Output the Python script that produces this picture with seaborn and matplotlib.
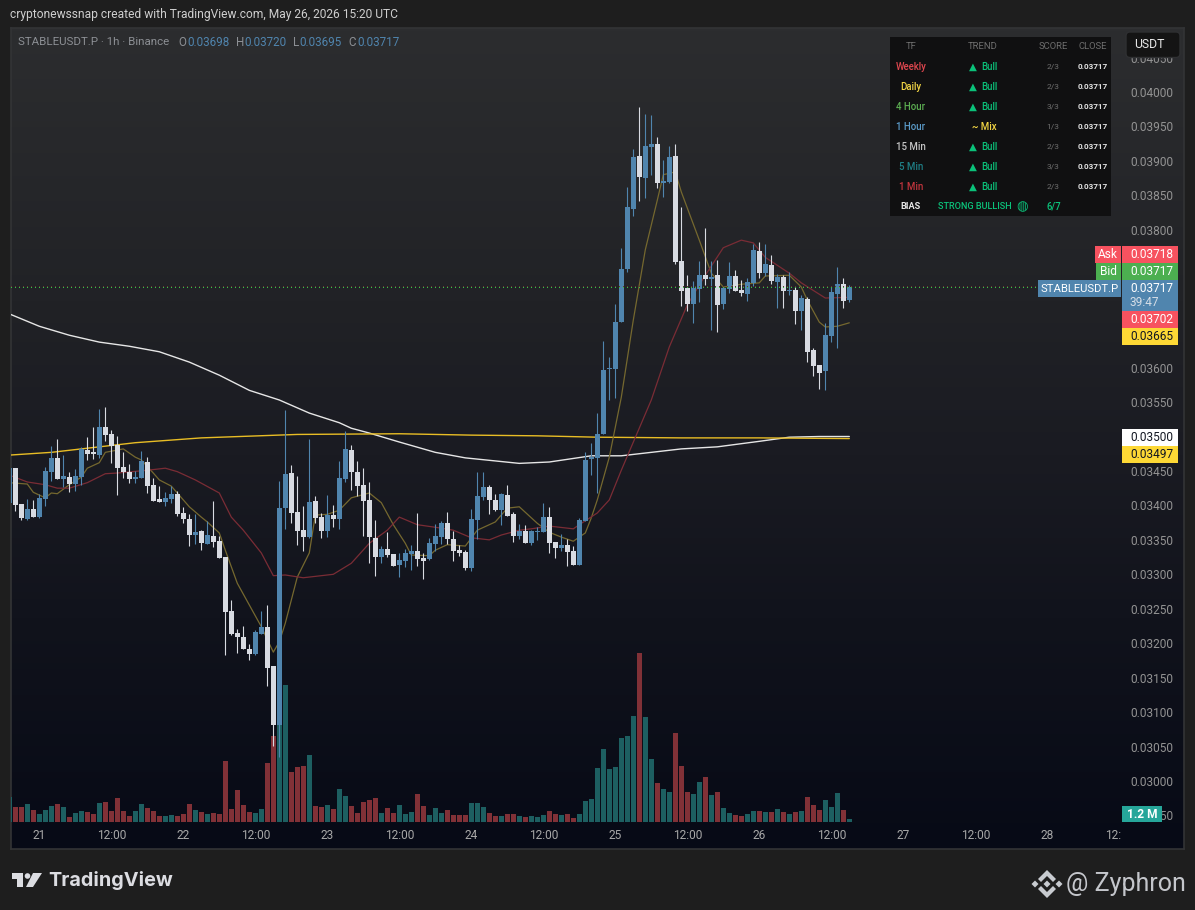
import numpy as np
import pandas as pd
import seaborn as sns
import matplotlib
matplotlib.use("Agg")
import matplotlib.pyplot as plt
import matplotlib.transforms as mtransforms
from matplotlib.colors import LinearSegmentedColormap
from matplotlib.patches import Rectangle, FancyBboxPatch, Polygon, Circle

# hours since May 21 00:00, one candle per hour
hours = list(range(-5, 136))

# prices below are in units of 0.00001
opens = [3403, 3454, 3402, 3380, 3395, 3383, 3409, 3449, 3469, 3438, 3441, 3431, 3441, 3480, 3476, 3473, 3514, 3504, 3488, 3456,
         3449, 3438, 3440, 3463, 3430, 3409, 3405, 3409, 3417, 3389, 3380, 3357, 3363, 3344, 3356, 3348, 3325, 3247, 3215, 3209,
         3192, 3184, 3213, 3224, 3167, 3081, 3396, 3447, 3390, 3364, 3354, 3406, 3383, 3363, 3386, 3380, 3438, 3480, 3449, 3430,
         3408, 3353, 3325, 3337, 3329, 3314, 3319, 3329, 3334, 3324, 3322, 3344, 3354, 3374, 3351, 3335, 3332, 3309, 3379, 3412,
         3427, 3408, 3393, 3415, 3388, 3356, 3363, 3345, 3361, 3361, 3383, 3347, 3338, 3343, 3334, 3314, 3377, 3468, 3469, 3504,
         3598, 3598, 3666, 3743, 3830, 3907, 3875, 3920, 3925, 3868, 3869, 3907, 3755, 3716, 3692, 3714, 3734, 3729, 3734, 3692,
         3714, 3733, 3713, 3707, 3723, 3769, 3737, 3749, 3724, 3731, 3711, 3713, 3682, 3700, 3626, 3604, 3595, 3646, 3707, 3721,
         3698]
highs = [3459, 3454, 3402, 3409, 3408, 3417, 3456, 3486, 3496, 3473, 3448, 3453, 3485, 3499, 3514, 3540, 3543, 3509, 3501, 3478,
         3460, 3450, 3479, 3470, 3440, 3428, 3419, 3428, 3421, 3398, 3388, 3388, 3364, 3377, 3406, 3356, 3325, 3263, 3221, 3225,
         3199, 3219, 3247, 3255, 3167, 3435, 3538, 3459, 3443, 3399, 3496, 3414, 3389, 3415, 3401, 3464, 3508, 3488, 3464, 3454,
         3434, 3379, 3341, 3361, 3329, 3331, 3337, 3343, 3389, 3331, 3353, 3373, 3377, 3390, 3363, 3343, 3335, 3395, 3448, 3448,
         3430, 3417, 3418, 3430, 3390, 3373, 3372, 3364, 3369, 3403, 3398, 3347, 3359, 3351, 3341, 3382, 3477, 3491, 3534, 3639,
         3615, 3692, 3774, 3862, 3917, 3978, 3968, 3967, 3935, 3901, 3922, 3925, 3833, 3734, 3726, 3755, 3803, 3755, 3756, 3718,
         3753, 3742, 3727, 3730, 3779, 3782, 3779, 3763, 3736, 3734, 3739, 3717, 3705, 3702, 3628, 3604, 3665, 3718, 3746, 3730,
         3720]
lows = [3398, 3392, 3379, 3379, 3383, 3382, 3399, 3435, 3438, 3427, 3419, 3421, 3430, 3466, 3467, 3469, 3493, 3462, 3415, 3440,
        3433, 3433, 3440, 3418, 3406, 3405, 3399, 3403, 3385, 3374, 3341, 3344, 3335, 3344, 3340, 3324, 3183, 3212, 3186, 3192,
        3176, 3183, 3213, 3138, 3051, 3035, 3366, 3374, 3343, 3334, 3353, 3374, 3353, 3354, 3369, 3366, 3434, 3422, 3414, 3356,
        3316, 3298, 3316, 3325, 3312, 3296, 3311, 3306, 3312, 3293, 3321, 3334, 3344, 3344, 3319, 3327, 3306, 3305, 3351, 3408,
        3388, 3392, 3372, 3385, 3347, 3351, 3345, 3343, 3350, 3361, 3331, 3324, 3334, 3312, 3314, 3314, 3377, 3444, 3418, 3504,
        3553, 3556, 3666, 3739, 3820, 3842, 3846, 3880, 3861, 3848, 3868, 3750, 3689, 3682, 3665, 3695, 3720, 3655, 3652, 3685,
        3708, 3711, 3704, 3697, 3718, 3730, 3733, 3721, 3686, 3686, 3705, 3663, 3655, 3608, 3588, 3569, 3567, 3637, 3628, 3686,
        3695]
closes = [3454, 3401, 3382, 3395, 3383, 3411, 3450, 3469, 3438, 3443, 3431, 3443, 3482, 3475, 3475, 3514, 3502, 3486, 3454, 3449,
          3438, 3441, 3464, 3428, 3406, 3405, 3411, 3417, 3388, 3380, 3357, 3361, 3345, 3357, 3347, 3324, 3245, 3213, 3209, 3192,
          3184, 3216, 3224, 3164, 3081, 3396, 3446, 3389, 3363, 3354, 3405, 3382, 3363, 3386, 3380, 3440, 3482, 3448, 3428, 3406,
          3354, 3325, 3337, 3328, 3312, 3321, 3331, 3334, 3322, 3319, 3345, 3356, 3374, 3351, 3334, 3331, 3309, 3380, 3414, 3427,
          3408, 3393, 3417, 3385, 3356, 3363, 3345, 3363, 3363, 3383, 3345, 3338, 3343, 3332, 3314, 3379, 3466, 3470, 3504, 3596,
          3600, 3666, 3743, 3833, 3906, 3877, 3922, 3925, 3868, 3871, 3906, 3753, 3711, 3692, 3716, 3734, 3729, 3732, 3691, 3716,
          3733, 3711, 3708, 3724, 3771, 3737, 3750, 3726, 3731, 3711, 3713, 3682, 3701, 3623, 3602, 3592, 3647, 3710, 3721, 3697,
          3717]

# volume in millions
volumes = [10.0, 6.0, 6.0, 7.2, 4.8, 3.2, 4.8, 6.4, 7.2, 6.0, 2.0, 3.6, 4.4, 4.0, 3.2, 7.6, 8.0, 4.4, 9.6, 4.4,
           2.4, 4.4, 7.2, 5.6, 4.4, 2.4, 2.4, 2.8, 2.4, 3.2, 7.2, 4.8, 4.0, 3.2, 3.6, 3.2, 24.4, 5.2, 12.8, 6.8,
           4.0, 3.6, 5.2, 23.6, 34.4, 60.0, 54.8, 20.0, 22.0, 22.4, 26.8, 6.4, 6.0, 6.8, 5.2, 13.2, 10.4, 6.4, 3.6, 8.0,
           8.8, 9.6, 3.6, 5.6, 3.6, 6.8, 3.2, 4.0, 11.2, 6.4, 2.8, 5.6, 3.6, 4.8, 2.8, 2.8, 2.8, 7.6, 7.6, 6.0,
           3.6, 2.4, 2.4, 3.2, 3.2, 2.4, 2.0, 2.4, 2.0, 2.8, 4.4, 3.2, 2.8, 3.2, 1.6, 3.2, 8.4, 9.2, 21.6, 29.2,
           21.2, 22.0, 33.6, 34.4, 42.4, 67.6, 42.0, 25.2, 15.6, 13.2, 12.0, 35.6, 22.4, 12.0, 11.2, 16.0, 18.0, 10.8, 12.0, 5.6,
           3.6, 2.8, 2.4, 3.2, 4.4, 4.4, 4.0, 4.0, 5.2, 4.0, 3.2, 4.0, 4.4, 10.0, 6.8, 4.8, 8.8, 6.0, 11.6, 4.8,
           1.2]

# moving averages, read at a handful of hours
ma_white_h = [-5, 0, 5, 10, 15, 20, 25, 30, 35, 40, 45, 50, 52, 55, 60, 66, 71, 80, 85, 92, 97, 102, 107, 113, 120, 125, 130, 135]
ma_white = [3678, 3660, 3647, 3637, 3631, 3623, 3608, 3589, 3567, 3553, 3534, 3520, 3512, 3505, 3492, 3477, 3469, 3461, 3463,
            3472, 3472, 3477, 3482, 3485, 3493, 3499, 3500, 3500]
ma_gold_h = [-5, 2, 10, 16, 27, 43, 60, 72, 83, 93, 107, 120, 135]
ma_gold = [3473, 3477, 3485, 3491, 3498, 3503, 3504, 3502, 3501, 3499, 3498, 3498, 3497]
ma_fast_h = [-5, -2, -1, 1, 2, 3, 5, 7, 8, 10, 11, 14, 16, 17, 19, 20, 22, 23, 25, 27, 28, 30, 31, 33, 37, 39, 40, 41, 43, 45,
             46, 48, 50, 52, 55, 57, 59, 61, 62, 65, 66, 68, 71, 73, 76, 78, 80, 81, 83, 85, 87, 89, 91, 92, 93, 95, 97, 99,
             101, 103, 104, 106, 107, 110, 112, 114, 117, 120, 121, 125, 127, 128, 130, 131, 133, 135]
ma_fast = [3433, 3431, 3419, 3411, 3418, 3417, 3430, 3441, 3454, 3462, 3477, 3482, 3470, 3466, 3447, 3437, 3428, 3418, 3398, 3383,
           3376, 3360, 3335, 3287, 3224, 3187, 3202, 3229, 3296, 3331, 3386, 3387, 3393, 3411, 3418, 3404, 3372, 3345, 3328, 3327,
           3335, 3343, 3341, 3364, 3376, 3396, 3398, 3390, 3374, 3361, 3354, 3348, 3360, 3382, 3408, 3470, 3557, 3669, 3771, 3843,
           3880, 3884, 3855, 3785, 3737, 3717, 3721, 3723, 3733, 3734, 3717, 3698, 3666, 3659, 3660, 3665]
ma_slow_h = [-5, -2, 1, 3, 5, 8, 11, 13, 18, 21, 23, 26, 30, 32, 34, 37, 39, 41, 44, 49, 52, 55, 58, 60, 63, 67, 69, 72, 75, 77,
             80, 82, 85, 89, 90, 93, 95, 97, 102, 105, 108, 111, 114, 117, 119, 121, 125, 127, 131, 135]
ma_slow = [3444, 3434, 3430, 3425, 3425, 3433, 3446, 3447, 3451, 3454, 3449, 3437, 3418, 3383, 3364, 3331, 3298, 3299, 3295, 3300,
           3316, 3345, 3364, 3383, 3372, 3367, 3364, 3353, 3350, 3357, 3364, 3366, 3370, 3366, 3372, 3389, 3408, 3451, 3553, 3630,
           3691, 3734, 3774, 3785, 3781, 3760, 3737, 3723, 3701, 3702]

time_ticks = [0, 12, 24, 36, 48, 60, 72, 84, 96, 108, 120, 132, 144, 156, 168, 180]
time_labels = ["21", "12:00", "22", "12:00", "23", "12:00", "24", "12:00", "25", "12:00", "26", "12:00", "27", "12:00", "28", "12:00"]
price_ticks = [2950 + 50 * i for i in range(23)]
# these levels sit under the price badges on the scale
hidden_price_labels = [3500, 3650, 3700, 3750]

table_rows = ["Weekly", "Daily", "4 Hour", "1 Hour", "15 Min", "5 Min", "1 Min"]
table_colors = ["#e0474f", "#f2d544", "#5cae52", "#5b9bc9", "#c4c4c4", "#1f7f86", "#c2353d"]
table_trend = ["Bull", "Bull", "Bull", "Mix", "Bull", "Bull", "Bull"]
table_score = ["2/3", "2/3", "3/3", "1/3", "2/3", "3/3", "2/3"]

UP = "#5085ae"
DOWN = "#d8dbe2"
VOL_UP = "#1d5f61"
VOL_DOWN = "#813137"

sns.set_theme(style="dark", rc={"axes.grid": False})
plt.rcParams["font.family"] = ["Roboto", "DejaVu Sans"]

df = pd.DataFrame({"hour": hours, "open": opens, "high": highs, "low": lows, "close": closes, "volume": volumes})
for col in ["open", "high", "low", "close"]:
    df[col] = df[col] / 1e5
df["up"] = df["close"] >= df["open"]

W, H = 1195, 910
fig = plt.figure(figsize=(W / 100, H / 100), dpi=100, facecolor="#1e1e1e")
# pixel coordinates of the screenshot, y going down
px = mtransforms.Affine2D().scale(1 / W, -1 / H).translate(0, 1) + fig.transFigure


def axes_rect(x0, y0, x1, y1):
    return [x0 / W, 1 - y1 / H, (x1 - x0) / W, (y1 - y0) / H]


def px_text(x, y, s, size=8.6, color="#c8c8c8", ha="left", weight="normal", **kw):
    fig.text(x, y, s, transform=px, fontsize=size, color=color, ha=ha, va="center", fontweight=weight, zorder=12, **kw)


def px_box(x0, y0, x1, y1, color):
    fig.add_artist(Rectangle((x0, y0), x1 - x0, y1 - y0, transform=px, facecolor=color, edgecolor="none", zorder=10))


# gradient pane behind everything
ax_bg = fig.add_axes(axes_rect(11, 28, 1184, 849), zorder=0)
grad = LinearSegmentedColormap.from_list("pane", [(0, "#2c2d2f"), (0.33, "#212226"), (0.52, "#1a1b22"), (0.72, "#11131c"), (1, "#070a16")])
ax_bg.imshow(np.linspace(0, 1, 256).reshape(-1, 1), aspect="auto", cmap=grad)
ax_bg.set_xticks([])
ax_bg.set_yticks([])
for s in ax_bg.spines.values():
    s.set_color("#333436")
    s.set_linewidth(1.2)

xlim = ((11 - 39.3) / 6, (1122 - 39.3) / 6)

# volume underneath
ax_vol = fig.add_axes(axes_rect(11, 28, 1122, 824), zorder=1)
ax_vol.patch.set_alpha(0)
sns.barplot(data=df, x="hour", y="volume", hue="up", palette={True: VOL_UP, False: VOL_DOWN}, native_scale=True,
            dodge=False, width=0.84, saturation=1, legend=False, errorbar=None, linewidth=0, ax=ax_vol)
ax_vol.set_xlim(xlim)
ax_vol.set_ylim(-0.8, 317.6)
ax_vol.axis("off")

# price pane
ax = fig.add_axes(axes_rect(11, 28, 1122, 824), zorder=2)
ax.patch.set_alpha(0)
sns.lineplot(x=ma_white_h, y=np.array(ma_white) / 1e5, color="#e6e6e6", lw=1.0, errorbar=None, ax=ax, zorder=2)
sns.lineplot(x=ma_gold_h, y=np.array(ma_gold) / 1e5, color="#e8bd25", lw=1.0, errorbar=None, ax=ax, zorder=2)
sns.lineplot(x=ma_fast_h, y=np.array(ma_fast) / 1e5, color="#75682f", lw=0.9, errorbar=None, ax=ax, zorder=2)
sns.lineplot(x=ma_slow_h, y=np.array(ma_slow) / 1e5, color="#7a2c35", lw=0.9, errorbar=None, ax=ax, zorder=2)

colors = [UP if u else DOWN for u in df["up"]]
ax.vlines(df["hour"], df["low"], df["high"], colors=colors, lw=0.8, zorder=3)
ax.bar(df["hour"], (df["close"] - df["open"]).abs().clip(lower=0.00002), bottom=df[["open", "close"]].min(axis=1),
       width=0.84, color=colors, linewidth=0, zorder=4)

# ask and bid lines, red kept dim so the green row reads first
ax.axhline(0.03718, color="#6a3532", lw=0.72, ls=(0, (1, 3)), antialiased=False, zorder=5)
ax.axhline(0.03717, color="#2fc948", lw=1.0, ls=(0, (0.72, 2.16)), antialiased=False, zorder=6)

ax.set_xlim(xlim)
ax.set_ylim(0.03 - 43 * 1.4514e-5, 0.03 + 753 * 1.4514e-5)
ax.set_xticks(time_ticks, time_labels)
ax.set_yticks([p / 1e5 for p in price_ticks], ["" if p in hidden_price_labels else f"{p / 1e5:.5f}" for p in price_ticks])
ax.yaxis.tick_right()
ax.tick_params(axis="x", length=0, pad=3.6, labelsize=8.6, labelcolor="#a8a8a8")
ax.tick_params(axis="y", length=0, pad=5.8, labelsize=8.6, labelcolor="#939393")
ax.set_xlabel("")
ax.set_ylabel("")
for s in ax.spines.values():
    s.set_visible(False)
# the last time label runs under the price scale
last = ax.get_xticklabels()[-1]
last.set_clip_box(mtransforms.Bbox([[11, 0], [1120.5, 910]]))
last.set_clip_on(True)

# header and legend
px_text(10, 14.5, "cryptonewssnap created with TradingView.com, May 26, 2026 15:20 UTC", size=8.63, color="#cfcfcf")
px_text(18, 42, "STABLEUSDT.P · 1h · Binance", size=8.25, color="#8d9095")
for x, s, c in [(178, "O", "#8d9095"), (187, "0.03698", UP), (236, "H", "#8d9095"), (244, "0.03720", UP),
                (293, "L", "#8d9095"), (299.5, "0.03695", UP), (348, "C", "#8d9095"), (357, "0.03717", UP)]:
    px_text(x, 42, s, size=8.4, color=c)

# signal table
px_box(890, 37, 1111, 216, "#101011")
for x, s in [(911, "TF"), (983, "TREND"), (1053, "SCORE"), (1093, "CLOSE")]:
    px_text(x, 46.5, s, size=6.8, color="#6e6e6e", ha="center")
for i, name in enumerate(table_rows):
    y = 66.5 + 20 * i
    px_text(911, y, name, size=6.9, color=table_colors[i], ha="center", weight="medium")
    if table_trend[i] == "Mix":
        px_text(984, y, "~ Mix", size=6.9, color="#f2d544", ha="center", weight="medium")
    else:
        px_text(973, y, "▲", size=7.4, color="#0bc27a", ha="center")
        px_text(981, y, table_trend[i], size=6.9, color="#0bc27a", weight="medium")
    px_text(1053, y, table_score[i], size=6.0, color="#6e6e6e", ha="center")
    px_text(1093, y, "0.03717", size=5.9, color="#e4e4e4", ha="center", weight="bold")
px_text(911, 206.5, "BIAS", size=6.6, color="#e8e8e8", ha="center", weight="bold")
px_text(975, 206.5, "STRONG BULLISH", size=6.6, color="#0bc27a", ha="center", weight="medium")
px_text(1022, 206.5, "◍", size=9.5, color="#0bc27a", ha="center")
px_text(1054, 206.5, "6/7", size=6.9, color="#0bc27a", ha="center", weight="medium")

# USDT button
fig.add_artist(FancyBboxPatch((1126, 32), 54, 25.5, boxstyle="round,pad=0,rounding_size=4", transform=px,
                              facecolor="#141414", edgecolor="#2f3032", lw=1, zorder=10))
px_text(1134, 44.5, "USDT", size=8.8, color="#e8e8e8")

# price badges
for y0, y1, c, s, tc in [(246, 263, "#f7525f", "0.03718", "white"), (263, 280, "#4caf50", "0.03717", "white"),
                         (311, 328, "#f7525f", "0.03702", "white"), (328, 345, "#fdd835", "0.03665", "#131722"),
                         (429, 446, "#ffffff", "0.03500", "#131722"), (446, 463, "#fdd835", "0.03497", "#131722")]:
    px_box(1122, y0, 1178, y1, c)
    px_text(1130, (y0 + y1) / 2, s, color=tc)
px_box(1122, 280, 1178, 311, UP)
px_text(1130, 288.5, "0.03717", color="white")
px_text(1130, 302.5, "39:47", color="#d5dde6")
px_box(1095, 246, 1121, 263, "#f7525f")
px_text(1108, 254.5, "Ask", color="white", ha="center")
px_box(1096, 263, 1121, 280, "#4caf50")
px_text(1108.5, 271.5, "Bid", color="white", ha="center")
px_box(1038, 280, 1121, 297, UP)
px_text(1041, 288.5, "STABLEUSDT.P", size=8.1, color="white")
px_box(1122, 806, 1162, 822, "#26a69a")
px_text(1142, 814, "1.2 M", color="white", ha="center", weight="bold")

# footer logos
logo = "#dcdde2"
fig.add_artist(Polygon([(12, 873), (23.5, 873), (23.5, 887), (17.5, 887), (17.5, 879), (12, 879)], transform=px, facecolor=logo, edgecolor="none", zorder=10))
fig.add_artist(Circle((27.5, 876), 2.8, transform=px, facecolor=logo, edgecolor="none", zorder=10))
fig.add_artist(Polygon([(33, 873), (42, 873), (33, 887), (26, 887)], transform=px, facecolor=logo, edgecolor="none", zorder=10))
px_text(48, 880, "TradingView", size=14.3, color=logo, weight="bold", family="Inter")

mark = "#c8cbd0"
fig.add_artist(Polygon([(1047, 870), (1056, 879), (1053, 882), (1047, 876), (1041, 882), (1038, 879)], transform=px, facecolor=mark, edgecolor="none", zorder=10))
fig.add_artist(Polygon([(1047, 898), (1056, 889), (1053, 886), (1047, 892), (1041, 886), (1038, 889)], transform=px, facecolor=mark, edgecolor="none", zorder=10))
for cx in [1035, 1047, 1059]:
    fig.add_artist(Polygon([(cx, 880.5), (cx + 3.5, 884), (cx, 887.5), (cx - 3.5, 884)], transform=px, facecolor=mark, edgecolor="none", zorder=10))
px_text(1186, 884, "@ Zyphron", size=18, color="#c4c6cb", ha="right")

fig.savefig("out.png", dpi=100, facecolor=fig.get_facecolor())
